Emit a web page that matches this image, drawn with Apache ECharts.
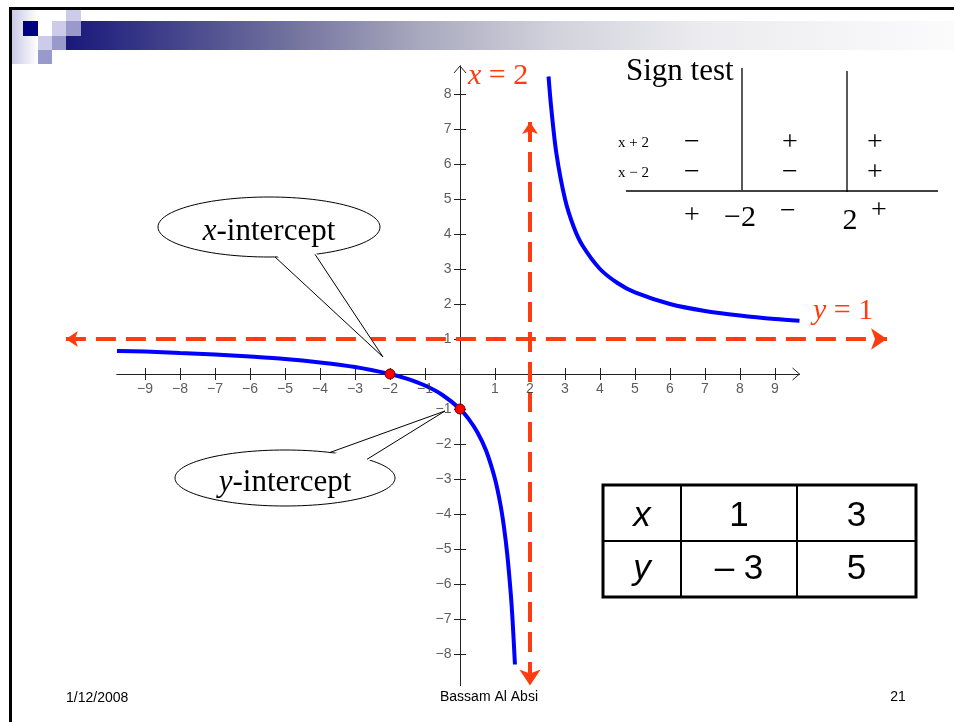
<!DOCTYPE html>
<html>
<head>
<meta charset="utf-8">
<title>Rational function (x+2)/(x-2)</title>
<script src="https://cdn.jsdelivr.net/npm/echarts@6/dist/echarts.min.js"></script>
<style>
  html, body { margin: 0; padding: 0; background: #fff; }
  #chart { width: 954px; height: 722px; }
</style>
</head>
<body>
<div id="chart"></div>
<script>
// curve y = (x+2)/(x-2)
var leftX  = [-9.8, -9, -8, -7, -6, -5, -4, -3, -2, -1.5, -1, -0.5, 0, 0.25, 0.5, 0.75, 1, 1.15, 1.25, 1.35, 1.45, 1.5, 1.57];
var leftY  = [0.66, 0.64, 0.6, 0.56, 0.5, 0.43, 0.33, 0.2, 0, -0.14, -0.33, -0.6, -1, -1.29, -1.67, -2.2, -3, -3.7, -4.33, -5.15, -6.27, -7, -8.3];
var rightX = [2.53, 2.6, 2.75, 3, 3.25, 3.5, 4, 4.5, 5, 6, 7, 8, 9, 9.7];
var rightY = [8.5, 7.67, 6.33, 5, 4.2, 3.67, 3, 2.6, 2.33, 2, 1.8, 1.67, 1.57, 1.52];

// intercepts
var interceptX = [-2, 0];
var interceptY = [0, -1];

// asymptotes x = 2 and y = 1 (tips of the dashed arrows)
var vAsymX = 2;
var vAsymEnds = [7.2, -8.9];
var hAsymY = 1;
var hAsymEnds = [-11.26, 12.2];

// tick labels
var xTicks = [-9, -8, -7, -6, -5, -4, -3, -2, -1, 1, 2, 3, 4, 5, 6, 7, 8, 9];
var yTicks = [-8, -7, -6, -5, -4, -3, -2, -1, 1, 2, 3, 4, 5, 6, 7, 8];

// sign test
var signRows = ['x + 2', 'x \u2212 2'];
var signs = [['\u2212', '+', '+'], ['\u2212', '\u2212', '+']];
var critical = [-2, 2];
var resultSigns = ['+', '\u2212', '+'];

// value table
var tableX = [1, 3];
var tableY = [-3, 5];

var RED = '#ff3c10';
var SERIF = '"Liberation Serif", "DejaVu Serif", serif';
var SANS = '"Liberation Sans", Arial, sans-serif';

function minus(v) {
  return v < 0 ? '\u2212' + (-v) : String(v);
}
function pairs(xs, ys) {
  return xs.map(function (x, i) { return [x, ys[i]]; });
}

var chart = echarts.init(document.getElementById('chart'));

function axis(pos, min, max, ticks) {
  return {
    type: 'value',
    position: pos,
    min: min,
    max: max,
    axisLine: { onZero: true, onZeroAxisIndex: 0, lineStyle: { color: '#222', width: 1 } },
    axisTick: { show: true, customValues: ticks, length: 6, lineStyle: { color: '#222', width: 1 } },
    axisLabel: { show: false },
    splitLine: { show: false }
  };
}

// tick labels ride on the axis lines through the cartesian scale
function tickLabels(data, pos, idx) {
  return {
    type: 'scatter', data: data, symbolSize: 1, silent: true, z: 4,
    itemStyle: { color: 'transparent' },
    label: {
      show: true, position: pos, distance: 8,
      formatter: function (p) { return minus(p.value[idx]); },
      color: '#333', fontFamily: SANS, fontSize: 14
    }
  };
}

var option = {
  animation: false,
  backgroundColor: '#fff',
  grid: { left: 117, top: 66, width: 682.5, height: 619.5, outerBoundsMode: 'none' },
  xAxis: [axis('bottom', -9.8, 9.7, xTicks), axis('top', -9.8, 9.7, xTicks)],
  yAxis: [axis('left', -8.9, 8.8, yTicks), axis('right', -8.9, 8.8, yTicks)],
  series: [
    {
      type: 'lines',
      coordinateSystem: 'cartesian2d',
      polyline: false,
      clip: false,
      z: 2,
      symbol: ['arrow', 'arrow'],
      symbolSize: [12, 16],
      lineStyle: { color: RED, width: 4, opacity: 1, type: [20, 10], curveness: 0 },
      data: [
        { coords: [[hAsymEnds[0], hAsymY], [hAsymEnds[1], hAsymY]] },
        { coords: [[vAsymX, vAsymEnds[0]], [vAsymX, vAsymEnds[1]]] }
      ]
    },
    {
      type: 'line', data: pairs(leftX, leftY), showSymbol: false, smooth: 0.3, clip: false, z: 3,
      lineStyle: { color: '#0000ff', width: 4 }
    },
    {
      type: 'line', data: pairs(rightX, rightY), showSymbol: false, smooth: 0.3, clip: false, z: 3,
      lineStyle: { color: '#0000ff', width: 4 }
    },
    tickLabels(xTicks.map(function (v) { return [v, 0]; }), 'bottom', 0),
    tickLabels(yTicks.map(function (v) { return [0, v]; }), 'left', 1),
    {
      type: 'scatter', data: pairs(interceptX, interceptY), symbolSize: 10, z: 5,
      itemStyle: { color: '#ff0000', borderColor: '#700000', borderWidth: 1, opacity: 1 }
    }
  ]
};
chart.setOption(option);

function px(p) {
  return chart.convertToPixel({ xAxisIndex: 0, yAxisIndex: 0 }, p);
}

function text(x, y, s, font, opts) {
  opts = opts || {};
  return {
    type: 'text', x: x, y: y, z: 20,
    style: {
      text: s, font: font, fill: opts.fill || '#000',
      align: opts.align || 'center', verticalAlign: 'middle', rich: opts.rich
    }
  };
}
function line(x1, y1, x2, y2, w) {
  return { type: 'line', z: 20, shape: { x1: x1, y1: y1, x2: x2, y2: y2 }, style: { stroke: '#000', lineWidth: w || 1 } };
}
function rect(x, y, w, h, fill) {
  return { type: 'rect', z: 20, shape: { x: x, y: y, width: w, height: h }, style: { fill: fill } };
}

// speech bubble: ellipse plus a wedge pointing at tip
function callout(cx, cy, rx, ry, a1, a2, tip, word) {
  var side = tip[1] > cy ? 1 : -1;
  function edge(dx, inset) {
    var dy = ry * Math.sqrt(1 - dx * dx / (rx * rx));
    return [cx + dx, cy + side * (dy - inset)];
  }
  return [
    { type: 'ellipse', z: 10, shape: { cx: cx, cy: cy, rx: rx, ry: ry }, style: { fill: '#fff', stroke: '#000', lineWidth: 1 } },
    { type: 'polygon', z: 11, shape: { points: [edge(a1, 3), tip, edge(a2, 3)] }, style: { fill: '#fff' } },
    { type: 'polyline', z: 12, shape: { points: [edge(a1, 0), tip, edge(a2, 0)] }, style: { stroke: '#000', lineWidth: 1, fill: null } },
    text(cx, cy + 5, '{i|' + word[0] + '}' + word.slice(1), '31px ' + SERIF,
      { rich: { i: { font: 'italic 31px ' + SERIF } } })
  ];
}

var g = [];

// slide frame
g.push(rect(9, 7, 945, 3, '#000'));
g.push(rect(9, 7, 3, 715, '#000'));

// header decoration
g.push({
  type: 'rect', z: 19, shape: { x: 12, y: 10, width: 26, height: 54 },
  style: { fill: new echarts.graphic.LinearGradient(0, 0, 1, 0, [
    { offset: 0, color: '#c9c9e6' }, { offset: 1, color: '#ffffff' }]) }
});
var barFill = new echarts.graphic.LinearGradient(66, 0, 954, 0, [
  { offset: 0, color: '#18187a' },
  { offset: 0.26, color: '#7575a0' },
  { offset: 0.4, color: '#a9a9bf' },
  { offset: 0.55, color: '#d2d2dc' },
  { offset: 0.72, color: '#ececf0' },
  { offset: 1, color: '#fbfbfc' }
], true);
g.push({ type: 'rect', z: 20, shape: { x: 81, y: 21, width: 873, height: 15 }, style: { fill: barFill } });
g.push({ type: 'rect', z: 20, shape: { x: 66, y: 36, width: 888, height: 14 }, style: { fill: barFill } });
g.push(rect(23, 21, 15, 15, '#000080'));
g.push(rect(66, 10, 15, 11, '#ccccea'));
g.push(rect(52, 21, 14, 15, '#ccccea'));
g.push(rect(66, 21, 15, 15, '#9999cc'));
g.push(rect(38, 36, 14, 14, '#ccccea'));
g.push(rect(52, 36, 14, 14, '#9999cc'));
g.push(rect(38, 50, 14, 14, '#9999cc'));

// axis arrow heads (open chevrons)
var xEnd = px([9.7, 0]);
var yEnd = px([0, 8.8]);
g.push({ type: 'polyline', z: 20, shape: { points: [[xEnd[0] - 7, xEnd[1] - 6], xEnd, [xEnd[0] - 7, xEnd[1] + 6]] }, style: { stroke: '#222', lineWidth: 1, fill: null } });
g.push({ type: 'polyline', z: 20, shape: { points: [[yEnd[0] - 6, yEnd[1] + 7], yEnd, [yEnd[0] + 6, yEnd[1] + 7]] }, style: { stroke: '#222', lineWidth: 1, fill: null } });

// asymptote labels
g.push(text(468, 76, '{i|x} = ' + vAsymX, '30px ' + SERIF,
  { fill: RED, align: 'left', rich: { i: { font: 'italic 30px ' + SERIF, fill: RED } } }));
g.push(text(813, 311, '{i|y} = ' + hAsymY, '30px ' + SERIF,
  { fill: RED, align: 'left', rich: { i: { font: 'italic 30px ' + SERIF, fill: RED } } }));

// callouts
var xi = px([interceptX[0], interceptY[0]]);
var yi = px([interceptX[1], interceptY[1]]);
g = g.concat(callout(269, 227, 111, 30, 6, 46, [xi[0] - 7, xi[1] - 17], 'x-intercept'));
g = g.concat(callout(285, 478, 110, 28, 45, 82, [yi[0] - 15, yi[1] + 2], 'y-intercept'));

// sign test
g.push(text(626, 72, 'Sign test', '31px ' + SERIF, { align: 'left' }));
g.push(line(742, 68, 742, 190, 1.3));
g.push(line(847, 71, 847, 192, 1.3));
g.push(line(626, 191, 938, 191, 1.3));
var signCols = [692, 790, 875];
var signRowY = [143, 173];
signRows.forEach(function (lbl, r) {
  g.push(text(649, signRowY[r], lbl, '15px ' + SERIF, { align: 'right' }));
  signs[r].forEach(function (s, c) {
    g.push(text(signCols[c], signRowY[r], s, '28px ' + SERIF));
  });
});
g.push(text(692, 216, resultSigns[0], '28px ' + SERIF));
g.push(text(740, 218, minus(critical[0]), '30px ' + SERIF));
g.push(text(788, 212, resultSigns[1], '28px ' + SERIF));
g.push(text(850, 221, minus(critical[1]), '30px ' + SERIF));
g.push(text(879, 211, resultSigns[2], '28px ' + SERIF));

// value table
var colX = [603, 681, 797, 916];
var rowY = [485, 541, 597];
g.push({ type: 'rect', z: 20, shape: { x: colX[0], y: rowY[0], width: colX[3] - colX[0], height: rowY[2] - rowY[0] }, style: { fill: null, stroke: '#000', lineWidth: 3 } });
g.push(line(colX[1], rowY[0], colX[1], rowY[2], 2));
g.push(line(colX[2], rowY[0], colX[2], rowY[2], 2));
g.push(line(colX[0], rowY[1], colX[3], rowY[1], 2));
var tFont = '35px ' + SANS;
var tItal = 'italic 35px ' + SANS;
g.push(text(642, 516, 'x', tItal));
g.push(text(642, 569, 'y', tItal));
tableX.forEach(function (v, i) {
  var cx = (colX[i + 1] + colX[i + 2]) / 2;
  g.push(text(cx, 516, String(v), tFont));
  g.push(text(cx, 569, tableY[i] < 0 ? '\u2013 ' + (-tableY[i]) : String(tableY[i]), tFont));
});

// footer
g.push(text(66, 698, '1/12/2008', '14px ' + SANS, { align: 'left' }));
g.push(text(489, 697, 'Bassam Al Absi', '14px ' + SANS));
g.push(text(898, 697, '21', '14px ' + SANS));

chart.setOption({ graphic: { elements: g } });
</script>
</body>
</html>
